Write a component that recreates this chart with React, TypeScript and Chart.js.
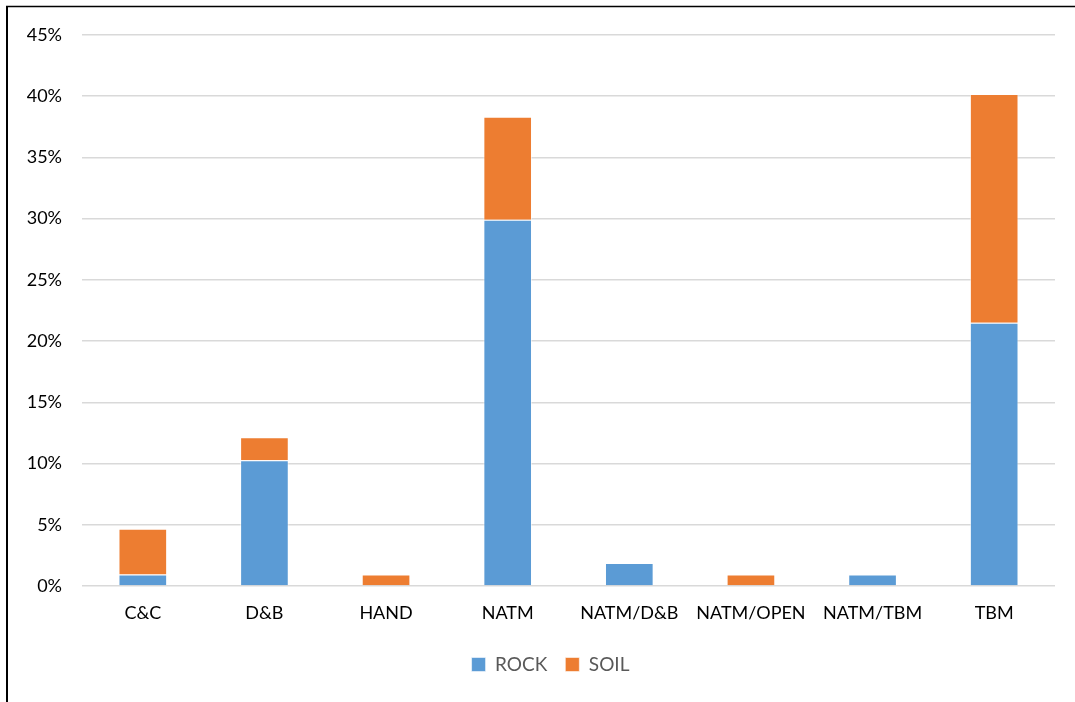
import React, { useEffect, useRef } from "react";
import { Chart, registerables } from "chart.js";

Chart.register(...registerables);

// Share of tunnels by excavation method, split by ground type (%)
const methods = ["C&C", "D&B", "HAND", "NATM", "NATM/D&B", "NATM/OPEN", "NATM/TBM", "TBM"];
const rockShare = [0.93, 10.28, 0, 29.91, 1.87, 0, 0.93, 21.5];
const soilShare = [3.74, 1.87, 0.93, 8.41, 0, 0.93, 0, 18.69];
const yTicks = [0, 5, 10, 15, 20, 25, 30, 35, 40, 45];

const ROCK_COLOR = "#5B9BD5";
const SOIL_COLOR = "#ED7D31";
const FONT = "Lato";

// Draws the black frame edges (left and top) around the figure
const framePlugin = {
  id: "frameEdges",
  beforeDraw(chart: Chart) {
    const { ctx, width, height } = chart;
    ctx.save();
    ctx.fillStyle = "#ffffff";
    ctx.fillRect(0, 0, width, height);
    ctx.strokeStyle = "#000000";
    ctx.lineWidth = 2;
    ctx.beginPath();
    ctx.moveTo(7, 6);
    ctx.lineTo(7, height);
    ctx.stroke();
    ctx.lineWidth = 1.5;
    ctx.beginPath();
    ctx.moveTo(6, 6.5);
    ctx.lineTo(width, 6.5);
    ctx.stroke();
    ctx.restore();
  },
};

// Nudges the legend a little to the right of the plot centre
const legendShiftPlugin = {
  id: "legendShift",
  afterLayout(chart: any) {
    const legend = chart.legend;
    if (legend) {
      legend.left += 13;
      legend.right += 13;
    }
  },
};

export default function App() {
  const canvasRef = useRef<HTMLCanvasElement | null>(null);

  useEffect(() => {
    const canvas = canvasRef.current;
    if (!canvas) return;
    const chart = new Chart(canvas, {
      type: "bar",
      data: {
        labels: methods,
        datasets: [
          {
            label: "ROCK",
            data: rockShare,
            backgroundColor: ROCK_COLOR,
            borderColor: "rgba(255,255,255,0.55)",
            borderWidth: 1,
            barPercentage: 0.4,
            categoryPercentage: 1,
          },
          {
            label: "SOIL",
            data: soilShare,
            backgroundColor: SOIL_COLOR,
            borderColor: "rgba(255,255,255,0.55)",
            borderWidth: 1,
            barPercentage: 0.4,
            categoryPercentage: 1,
          },
        ],
      },
      options: {
        responsive: false,
        animation: false,
        devicePixelRatio: 1,
        layout: { padding: { left: 20, right: 20, top: 35, bottom: 18 } },
        plugins: {
          tooltip: { enabled: false },
          legend: {
            position: "bottom",
            labels: {
              boxWidth: 14,
              boxHeight: 14,
              padding: 18,
              color: "#595959",
              font: { family: FONT, size: 19 },
            },
          },
        },
        scales: {
          x: {
            stacked: true,
            grid: { display: false, drawTicks: false },
            border: { display: false },
            ticks: {
              color: "#000000",
              padding: 16,
              font: { family: FONT, size: 18 },
              maxRotation: 0,
              autoSkip: false,
            },
            afterFit(scale: any) {
              scale.height = 51;
            },
          },
          y: {
            stacked: true,
            min: 0,
            max: 45,
            afterBuildTicks(scale: any) {
              scale.ticks = yTicks.map((v) => ({ value: v }));
            },
            grid: { color: "#d9d9d9", lineWidth: 1.5, drawTicks: false },
            border: { display: false },
            ticks: {
              color: "#000000",
              padding: 20,
              font: { family: FONT, size: 18 },
              callback: (v: any) => `${v}%`,
            },
            afterFit(scale: any) {
              scale.width = 62;
            },
          },
        },
      },
      plugins: [framePlugin, legendShiftPlugin],
    });
    return () => chart.destroy();
  }, []);

  return (
    <div style={{ position: "fixed", left: 0, top: 0, width: 1075, height: 702, background: "#fff" }}>
      <canvas ref={canvasRef} width={1075} height={702} style={{ display: "block" }} />
    </div>
  );
}
